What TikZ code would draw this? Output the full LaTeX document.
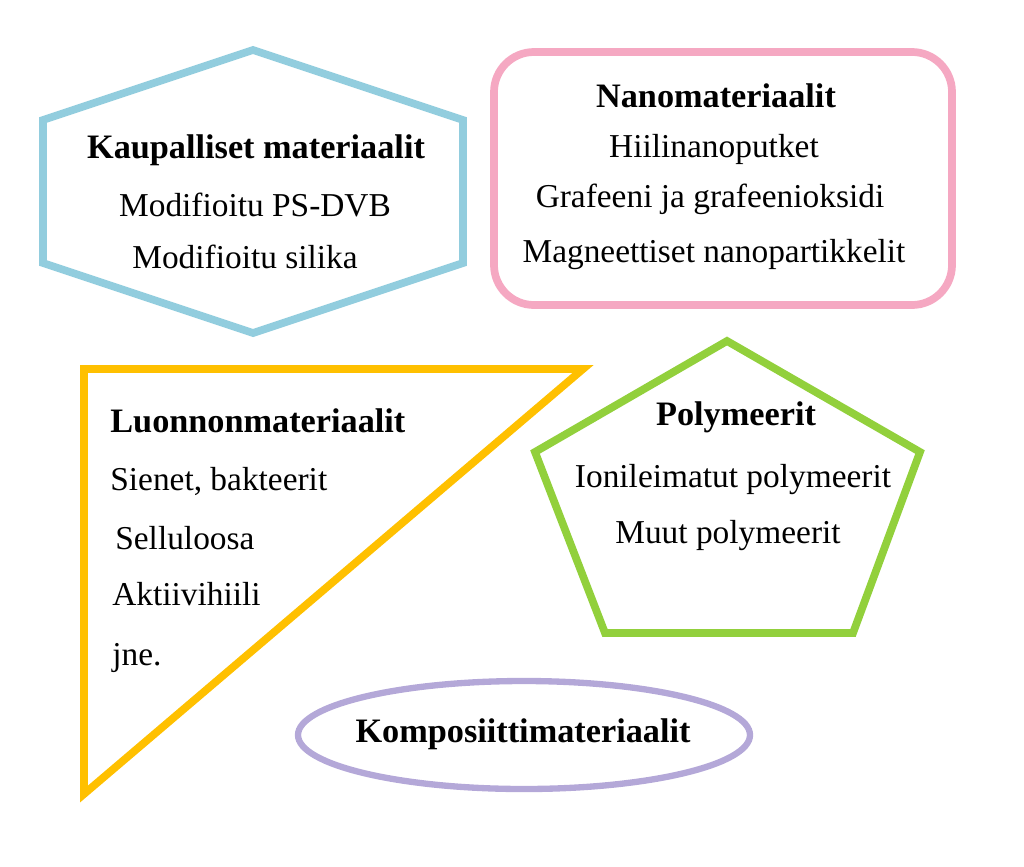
\documentclass[tikz,border=0pt]{standalone}
\usepackage{fontspec}
\setmainfont{Liberation Serif}
\usepackage{tikz}
\definecolor{hexblue}{RGB}{146,205,222}
\definecolor{boxpink}{RGB}{245,168,194}
\definecolor{trigold}{RGB}{255,192,0}
\definecolor{pentgreen}{RGB}{146,208,60}
\definecolor{elllilac}{RGB}{180,168,216}

\begin{document}
\begin{tikzpicture}[x=0.02cm,y=-0.02cm,line join=miter,
	txt/.style={inner sep=0pt,anchor=base,font=\fontsize{19}{23}\selectfont},
	head/.style={txt,font=\fontsize{19.5}{23}\selectfont\bfseries},
	frame/.style={line width=4.4pt}]
			\useasboundingbox (0,0) rectangle (1024,866);
			\draw[frame,hexblue] (253,50) -- (463,120) -- (463,263) -- (253,333) -- (43,263) -- (43,120) -- cycle;
			\draw[frame,boxpink,rounded corners=0.8cm] (494,52) rectangle (952,305);
			\draw[frame,trigold] (84,369) -- (583,369) -- (84,794) -- cycle;
			\draw[frame,pentgreen] (727,341) -- (920,452) -- (853,633) -- (605,633) -- (535,452) -- cycle;
			\draw[line width=3.6pt,elllilac] (524,735) ellipse (226 and 54);
			\node[head] (kaup) at (256,158) {Kaupalliset materiaalit};
			\node[txt] (psdvb) at (255,216) {Modifioitu PS-DVB};
			\node[txt] (silika) at (245,268) {Modifioitu silika};
			\node[head] (nano) at (716,107) {Nanomateriaalit};
			\node[txt] (cnt) at (714,157) {Hiilinanoputket};
			\node[txt] (graf) at (710,207) {Grafeeni ja grafeenioksidi};
			\node[txt] (magn) at (714,262) {Magneettiset nanopartikkelit};
			\node[head,anchor=base west] (luon) at (110,432) {Luonnonmateriaalit};
			\node[txt,anchor=base west] (sien) at (110,490) {Sienet, bakteerit};
			\node[txt,anchor=base west] (sell) at (115,549) {Selluloosa};
			\node[txt,anchor=base west] (akti) at (112,605) {Aktiivihiili};
			\node[txt,anchor=base west] (jne) at (112,665) {jne.};
			\node[head] (poly) at (736,425) {Polymeerit};
			\node[txt] (ioni) at (733,487) {Ionileimatut polymeerit};
			\node[txt] (muut) at (728,543) {Muut polymeerit};
			\node[head] (komp) at (523,742) {Komposiittimateriaalit};
		\end{tikzpicture}
\end{document}
